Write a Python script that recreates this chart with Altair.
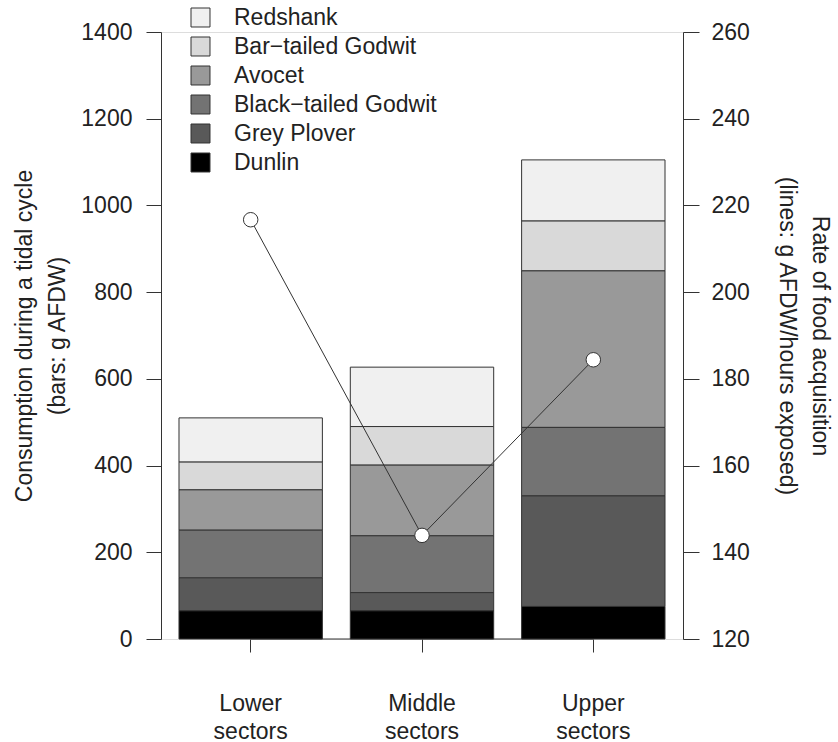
import altair as alt
import pandas as pd

sectors = ["Lower sectors", "Middle sectors", "Upper sectors"]
species = ["Redshank", "Bar−tailed Godwit", "Avocet", "Black−tailed Godwit", "Grey Plover", "Dunlin"]
colors = ["#f0f0f0", "#d9d9d9", "#999999", "#737373", "#595959", "#000000"]

redshank = [102, 137, 141]
bar_tailed = [64, 89, 115]
avocet = [93, 163, 361]
black_tailed = [110, 131, 158]
grey_plover = [76, 42, 255]
dunlin = [65, 65, 75]
rate = [216.7, 143.9, 184.4]

left_ticks = [0, 200, 400, 600, 800, 1000, 1200, 1400]
right_ticks = [120, 140, 160, 180, 200, 220, 240, 260]

series = [redshank, bar_tailed, avocet, black_tailed, grey_plover, dunlin]
rows = []
for i, (sp, vals) in enumerate(zip(species, series)):
    for s, v in zip(sectors, vals):
        rows.append({"sector": s, "species": sp, "value": v, "stack": len(species) - 1 - i})
bars_df = pd.DataFrame(rows)
rate_df = pd.DataFrame({"sector": sectors, "rate": rate})
base_df = pd.DataFrame({"start": [sectors[0]], "end": [sectors[-1]]})

FONT = "Liberation Sans"
FS = 23
INK = "#222222"
LINE = "#333333"

xscale = alt.Scale(domain=sectors, paddingInner=0.163, paddingOuter=0.105)
xaxis = alt.Axis(title=None, domain=False, ticks=True, tickSize=13, tickColor=LINE,
                 labelPadding=40, labelExpr="split(datum.label, ' ')", labelLineHeight=28,
                 labelFontSize=FS, labelFont=FONT, labelColor=INK, labelAngle=0, grid=False)

yleft_scale = alt.Scale(domain=[0, 1400], nice=False, zero=True)
yleft_axis = alt.Axis(values=left_ticks, format="d",
                      title=["Consumption during a tidal cycle", "(bars: g AFDW)"],
                      titleFont=FONT, titleFontSize=FS, titleFontWeight="normal", titleColor=INK,
                      titleLineHeight=33, titlePadding=11,
                      labelFont=FONT, labelFontSize=FS, labelColor=INK, labelPadding=14,
                      tickSize=15, tickColor=LINE, domainColor=LINE, grid=False, orient="left")

yright_scale = alt.Scale(domain=[120, 260], nice=False, zero=False)
yright_axis = alt.Axis(values=right_ticks, format="d",
                       title=["Rate of food acquisition", "(lines: g AFDW/hours exposed)"],
                       titleFont=FONT, titleFontSize=FS, titleFontWeight="normal", titleColor=INK,
                       titleLineHeight=33, titlePadding=25,
                       labelFont=FONT, labelFontSize=FS, labelColor=INK, labelPadding=12,
                       tickSize=16, tickColor=LINE, domainColor=LINE, grid=False, orient="right")

baseline = alt.Chart(base_df).mark_rule(color=LINE, strokeWidth=1).encode(
    x=alt.X("start:N", scale=xscale, axis=xaxis),
    x2="end:N",
    y=alt.datum(0),
)

bars = alt.Chart(bars_df).mark_bar(stroke=LINE, strokeWidth=1).encode(
    x=alt.X("sector:N", scale=xscale, axis=xaxis),
    y=alt.Y("value:Q", stack="zero", scale=yleft_scale, axis=yleft_axis),
    color=alt.Color("species:N", scale=alt.Scale(domain=species, range=colors),
                    legend=alt.Legend(title=None, orient="none", legendX=28, legendY=-26,
                                      symbolType="square", symbolSize=360,
                                      symbolStrokeColor=LINE, symbolStrokeWidth=1,
                                      labelFont=FONT, labelFontSize=FS, labelColor=INK,
                                      labelLimit=0, labelOffset=22, rowPadding=5, padding=0)),
    order=alt.Order("stack:Q", sort="ascending"),
)

line = alt.Chart(rate_df).mark_line(color=LINE, strokeWidth=1).encode(
    x=alt.X("sector:N", scale=xscale, axis=xaxis),
    y=alt.Y("rate:Q", scale=yright_scale, axis=yright_axis),
)
points = alt.Chart(rate_df).mark_circle(size=210, color="white", opacity=1,
                                        stroke=LINE, strokeWidth=1).encode(
    x=alt.X("sector:N", scale=xscale, axis=xaxis),
    y=alt.Y("rate:Q", scale=yright_scale, axis=yright_axis),
)

left = alt.layer(baseline, bars)
right = alt.layer(line, points)

chart = alt.layer(left, right).resolve_scale(y="independent").properties(
    width=522, height=607,
    autosize=alt.AutoSizeParams(type="none"),
    padding={"left": 161, "top": 32, "right": 155, "bottom": 103},
).configure_view(stroke=None).configure(background="white")

chart.save("out.html", embed_options={"renderer": "svg", "actions": False})
